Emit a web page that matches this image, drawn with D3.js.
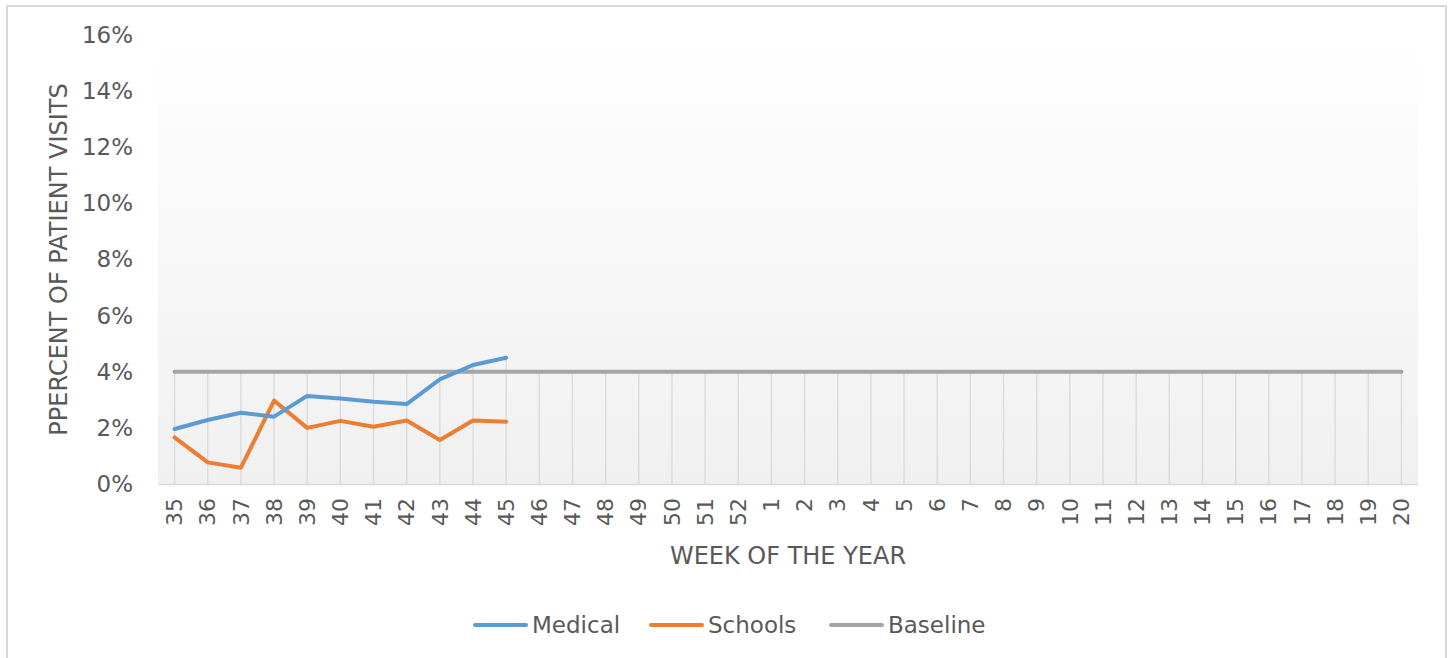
<!DOCTYPE html>
<html lang="en">
<head>
    <meta charset="UTF-8">
    <title>Percent of patient visits</title>
    <script src="https://d3js.org/d3.v7.min.js"></script>
    <style>
        body {
            margin: 0;
            padding: 0;
            background: #fff;
        }

        svg text {
            font-family: "DejaVu Sans", Verdana, sans-serif;
            fill: #595959;
        }
    </style>
</head>
<body>
<svg id="chart" width="1453" height="658" xmlns="http://www.w3.org/2000/svg"></svg>
<script>
    var weeks = ['35', '36', '37', '38', '39', '40', '41', '42', '43', '44', '45', '46', '47', '48', '49', '50', '51', '52',
        '1', '2', '3', '4', '5', '6', '7', '8', '9', '10', '11', '12', '13', '14', '15', '16', '17', '18', '19', '20'];
    var medical = [1.96, 2.28, 2.54, 2.40, 3.14, 3.05, 2.93, 2.85, 3.73, 4.24, 4.50];
    var schools = [1.66, 0.77, 0.58, 2.97, 2.00, 2.25, 2.04, 2.26, 1.57, 2.26, 2.22];
    var baseline = weeks.map(function () { return 4; });
    var yTicks = [0, 2, 4, 6, 8, 10, 12, 14, 16];

    var series = [
        {name: 'Medical', color: '#5b9bd5', values: medical},
        {name: 'Schools', color: '#ed7d31', values: schools},
        {name: 'Baseline', color: '#a5a5a5', values: baseline}
    ];

    (function () {
        var svg = d3.select('#chart');
        var left = 158, right = 1418, top = 35, bottom = 484;

        // chart frame
        svg.append('rect')
            .attr('x', 7).attr('y', 6)
            .attr('width', 1439).attr('height', 670)
            .attr('fill', '#fff')
            .attr('stroke', '#d9d9d9')
            .attr('stroke-width', 2);

        var grad = svg.append('defs').append('linearGradient')
            .attr('id', 'plotfill')
            .attr('x1', 0).attr('y1', 0).attr('x2', 0).attr('y2', 1);
        grad.append('stop').attr('offset', '0%').attr('stop-color', '#ffffff');
        grad.append('stop').attr('offset', '100%').attr('stop-color', '#f0f0f0');

        var x = d3.scaleBand().domain(weeks).range([left, right]);
        var y = d3.scaleLinear().domain([0, 16]).range([bottom, top]);
        var cx = function (w) { return x(w) + x.bandwidth() / 2; };

        svg.append('rect')
            .attr('x', left).attr('y', top)
            .attr('width', right - left).attr('height', bottom - top)
            .attr('fill', 'url(#plotfill)');

        // drop lines from the highest value in each week
        var tops = weeks.map(function (w, i) {
            return d3.max(series, function (s) { return s.values[i]; });
        });
        svg.append('g').selectAll('line')
            .data(weeks)
            .join('line')
            .attr('x1', cx).attr('x2', cx)
            .attr('y1', function (w, i) { return y(tops[i]); })
            .attr('y2', bottom)
            .attr('stroke', '#d9d9d9')
            .attr('stroke-width', 1.3);

        // x axis
        var xAxis = svg.append('g')
            .attr('transform', 'translate(0,' + bottom + ')')
            .call(d3.axisBottom(x).tickSize(0).tickPadding(0));
        xAxis.select('.domain').attr('stroke', '#d9d9d9').attr('stroke-width', 1.5);
        xAxis.selectAll('text')
            .attr('font-size', 22)
            .attr('transform', 'rotate(-90)')
            .attr('text-anchor', 'end')
            .attr('x', -14)
            .attr('y', 0)
            .attr('dy', '0.35em');

        // y axis
        var yAxis = svg.append('g')
            .attr('transform', 'translate(' + left + ',0)')
            .call(d3.axisLeft(y).tickValues(yTicks).tickSize(0).tickPadding(25)
                .tickFormat(function (d) { return d + '%'; }));
        yAxis.select('.domain').remove();
        yAxis.selectAll('text').attr('font-size', 23);

        // lines
        var line = d3.line()
            .x(function (d, i) { return cx(weeks[i]); })
            .y(function (d) { return y(d); });
        svg.append('g').selectAll('path')
            .data(series.slice().reverse())
            .join('path')
            .attr('d', function (s) { return line(s.values); })
            .attr('fill', 'none')
            .attr('stroke', function (s) { return s.color; })
            .attr('stroke-width', 4)
            .attr('stroke-linejoin', 'round')
            .attr('stroke-linecap', 'round');

        // axis titles
        svg.append('text')
            .attr('x', (left + right) / 2).attr('y', 564)
            .attr('text-anchor', 'middle')
            .attr('font-size', 24)
            .text('WEEK OF THE YEAR');
        svg.append('text')
            .attr('transform', 'translate(67,' + (top + bottom) / 2 + ') rotate(-90)')
            .attr('text-anchor', 'middle')
            .attr('font-size', 24)
            .text('PPERCENT OF PATIENT VISITS');

        // legend
        var legendX = [474, 650, 830];
        var legend = svg.append('g').selectAll('g')
            .data(series)
            .join('g')
            .attr('transform', function (s, i) { return 'translate(' + legendX[i] + ',625)'; });
        legend.append('line')
            .attr('x1', 1).attr('x2', 52)
            .attr('stroke', function (s) { return s.color; })
            .attr('stroke-width', 4)
            .attr('stroke-linecap', 'round');
        legend.append('text')
            .attr('x', 58).attr('dy', '0.35em')
            .attr('font-size', 23)
            .text(function (s) { return s.name; });
    })();
</script>
</body>
</html>
